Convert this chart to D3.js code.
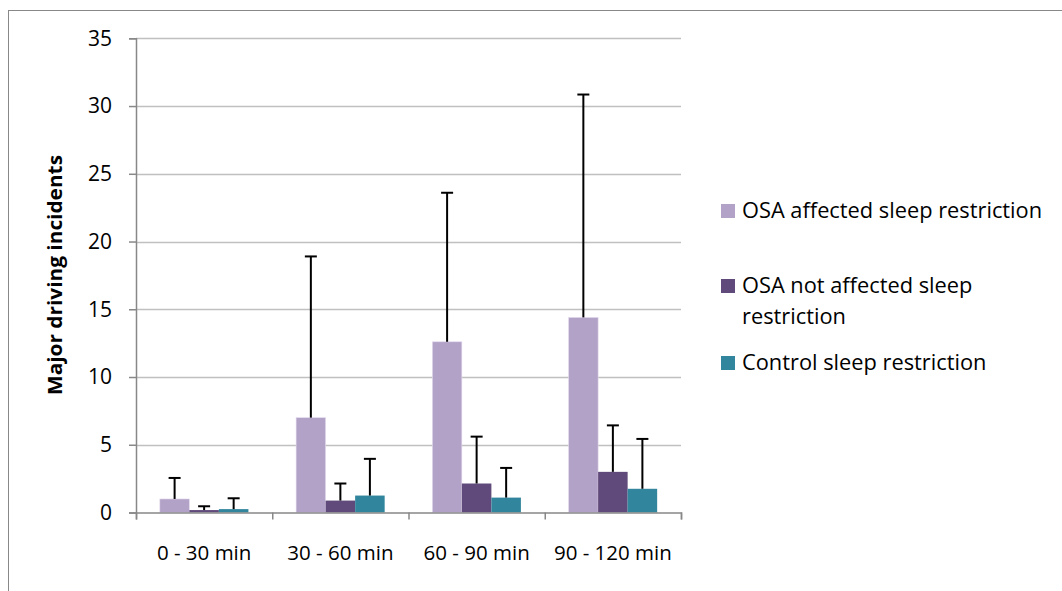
<!DOCTYPE html>
<html><head><meta charset="utf-8">
<script src="https://cdn.jsdelivr.net/npm/d3@7"></script>
<style>body{margin:0;background:#fff;} svg{display:block;font-family:"Open Sans",sans-serif;}</style>
</head><body><svg id="c" width="1062" height="591"></svg>
<script>
const categories = ["0 - 30 min", "30 - 60 min", "60 - 90 min", "90 - 120 min"];
const seriesNames = ["OSA affected sleep restriction", "OSA not affected sleep restriction", "Control sleep restriction"];
const osaAffected = [1.0, 7.0, 12.6, 14.4];
const osaAffectedErr = [1.55, 11.9, 11.0, 16.45];
const osaNotAffected = [0.18, 0.88, 2.14, 3.0];
const osaNotAffectedErr = [0.28, 1.26, 3.46, 3.43];
const control = [0.25, 1.25, 1.1, 1.75];
const controlErr = [0.8, 2.71, 2.19, 3.68];
const yTicks = [0, 5, 10, 15, 20, 25, 30, 35];
const colors = ["#B3A2C7", "#604A7B", "#31859C"];

const series = [
  {name: seriesNames[0], values: osaAffected, err: osaAffectedErr, color: colors[0]},
  {name: seriesNames[1], values: osaNotAffected, err: osaNotAffectedErr, color: colors[1]},
  {name: seriesNames[2], values: control, err: controlErr, color: colors[2]}
];

const svg = d3.select("#c");
svg.append("rect").attr("x", 8.5).attr("y", 10.5).attr("width", 1100).attr("height", 700)
  .attr("fill", "none").attr("stroke", "#888").attr("stroke-width", 1);

const pLeft = 136, pRight = 681, pTop = 38.3, pBottom = 512.5;
const y = d3.scaleLinear().domain([0, 35]).range([pBottom, pTop]);
const x0 = d3.scaleBand().domain(categories).range([pLeft, pRight]).paddingInner(0.35).paddingOuter(0.175);
const x1 = d3.scaleBand().domain(d3.range(series.length)).range([0, x0.bandwidth()]);

svg.append("g").selectAll("line").data(yTicks.filter(t => t > 0)).join("line")
  .attr("x1", pLeft).attr("x2", pRight).attr("y1", d => Math.round(y(d)) + 0.5).attr("y2", d => Math.round(y(d)) + 0.5)
  .attr("stroke", "#c0c0c0").attr("stroke-width", 1.5);

const yAxis = svg.append("g").attr("transform", `translate(${pLeft},0)`)
  .call(d3.axisLeft(y).tickValues(yTicks).tickSize(7).tickPadding(17));
yAxis.attr("font-size", 21).attr("font-family", "Open Sans");
yAxis.select(".domain").attr("stroke", "#888").attr("stroke-width", 1.5);
yAxis.selectAll(".tick line").attr("stroke", "#888").attr("stroke-width", 1.5);
yAxis.selectAll("text").attr("fill", "#000");

series.forEach((s, si) => {
  const g = svg.append("g");
  g.selectAll("rect").data(categories).join("rect")
    .attr("x", c => x0(c) + x1(si))
    .attr("y", (c, i) => y(s.values[i]))
    .attr("width", x1.bandwidth())
    .attr("height", (c, i) => y(0) - y(s.values[i]))
    .attr("fill", s.color)
    .attr("stroke", si === 0 ? "#e4dcef" : "none").attr("stroke-width", 0.6);
});

const xAxis = svg.append("g").attr("transform", `translate(0,${pBottom})`)
  .call(d3.axisBottom(d3.scaleLinear().domain([0, 4]).range([pLeft, pRight])).tickValues([0,1,2,3,4]).tickSize(7).tickFormat(""));
xAxis.select(".domain").attr("stroke", "#888").attr("stroke-width", 1.5);
xAxis.selectAll(".tick line").attr("stroke", "#888").attr("stroke-width", 1.5);
svg.append("g").selectAll("text").data(categories).join("text")
  .attr("x", c => x0(c) + x0.bandwidth() / 2).attr("y", 560)
  .attr("text-anchor", "middle").attr("font-size", "20.5px").text(c => c);

series.forEach((s, si) => {
  const g = svg.append("g");
  categories.forEach((c, i) => {
    const cx = x0(c) + x1(si) + x1.bandwidth() / 2;
    const yt = y(s.values[i] + s.err[i]);
    g.append("line").attr("x1", cx).attr("x2", cx).attr("y1", y(s.values[i])).attr("y2", yt)
      .attr("stroke", "#000").attr("stroke-width", 2);
    g.append("line").attr("x1", cx - 6).attr("x2", cx + 6).attr("y1", yt).attr("y2", yt)
      .attr("stroke", "#000").attr("stroke-width", 2);
  });
});

svg.append("text").attr("transform", `translate(62,275) rotate(-90)`)
  .attr("text-anchor", "middle").attr("font-weight", "bold").attr("font-size", "19px")
  .attr("textLength", 240).attr("lengthAdjust", "spacingAndGlyphs")
  .text("Major driving incidents");

const legendRows = [
  {lines: ["OSA affected sleep restriction"], y: 218},
  {lines: ["OSA not affected sleep", "restriction"], y: 293},
  {lines: ["Control sleep restriction"], y: 370}
];
legendRows.forEach((r, i) => {
  svg.append("rect").attr("x", 721).attr("y", r.y - 14).attr("width", 14).attr("height", 14).attr("fill", colors[i]);
  r.lines.forEach((t, j) => {
    svg.append("text").attr("x", 742).attr("y", r.y + j * 31)
      .attr("font-size", "21.8px").text(t);
  });
});
</script></body></html>
